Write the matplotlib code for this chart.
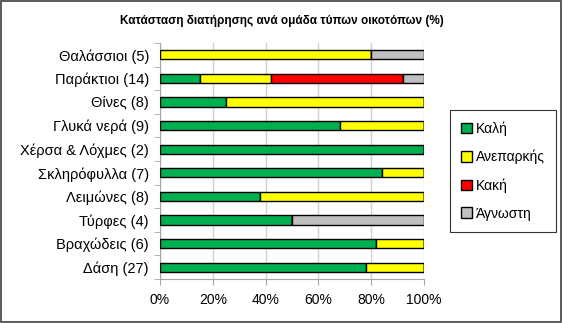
import numpy as np
import matplotlib
matplotlib.use("Agg")
import matplotlib.pyplot as plt
from matplotlib.patches import Rectangle

plt.rcParams['font.family'] = ['Liberation Sans', 'DejaVu Sans']

categories = ["Θαλάσσιοι (5)", "Παράκτιοι (14)", "Θίνες (8)", "Γλυκά νερά (9)",
              "Χέρσα & Λόχμες (2)", "Σκληρόφυλλα (7)", "Λειμώνες (8)",
              "Τύρφες (4)", "Βραχώδεις (6)", "Δάση (27)"]
kali = [0, 15, 25, 68, 100, 84, 38, 50, 82, 78]
aneparkis = [80, 27, 75, 32, 0, 16, 62, 0, 18, 22]
kaki = [0, 50, 0, 0, 0, 0, 0, 0, 0, 0]
agnosti = [20, 8, 0, 0, 0, 0, 0, 50, 0, 0]
series = [("Καλή", kali, "#00b050"), ("Ανεπαρκής", aneparkis, "#ffff00"),
          ("Κακή", kaki, "#ff0000"), ("Άγνωστη", agnosti, "#bfbfbf")]

fig = plt.figure(figsize=(5.63, 3.23), dpi=100)
ax = fig.add_axes([160/563, 44/323, 264/563, 236/323])

y = np.arange(len(categories))
left = np.zeros(len(categories))
for name, vals, col in series:
    vals = np.array(vals, dtype=float)
    ax.barh(y, vals, left=left, height=0.39, color=col, edgecolor="black",
            linewidth=1.0, label=name, zorder=3)
    left += vals

ax.set_xlim(0, 100)
ax.set_ylim(len(categories) - 0.5, -0.5)
ax.set_yticks(y)
ax.set_yticklabels(categories, fontsize=10.5)
ax.set_yticks(np.arange(-0.5, len(categories), 1), minor=True)
ax.tick_params(axis="y", which="major", length=0, pad=8)
ax.tick_params(axis="y", which="minor", length=4, color="#a6a6a6")
ax.set_xticks(np.arange(0, 101, 20))
ax.set_xticklabels([f"{v}%" for v in range(0, 101, 20)], fontsize=10)
ax.tick_params(axis="x", length=4, color="#a6a6a6", pad=6)
ax.grid(axis="x", color="#d0d0d0", linewidth=1, zorder=0)
for s in ["top", "right"]:
    ax.spines[s].set_visible(False)
ax.spines["left"].set_color("#a6a6a6")
ax.spines["bottom"].set_color("#a6a6a6")

fig.text(0.5, 0.935, "Κατάσταση διατήρησης ανά ομάδα τύπων οικοτόπων (%)",
         ha="center", va="center", fontsize=8.5, fontweight="bold")

leg = fig.legend(loc="center", bbox_to_anchor=(503/563, 1 - 171/323),
                 fontsize=10, frameon=True, fancybox=False, edgecolor="black",
                 handlelength=0.8, handleheight=0.8, handletextpad=0.3,
                 labelspacing=1.0, borderpad=0.8)
leg.get_frame().set_linewidth(0.8)

fig.patches.append(Rectangle((0.002, 0.003), 0.995, 0.993, transform=fig.transFigure,
                             fill=False, edgecolor="#404040", linewidth=1.2))

fig.savefig("out.png", dpi=100)
